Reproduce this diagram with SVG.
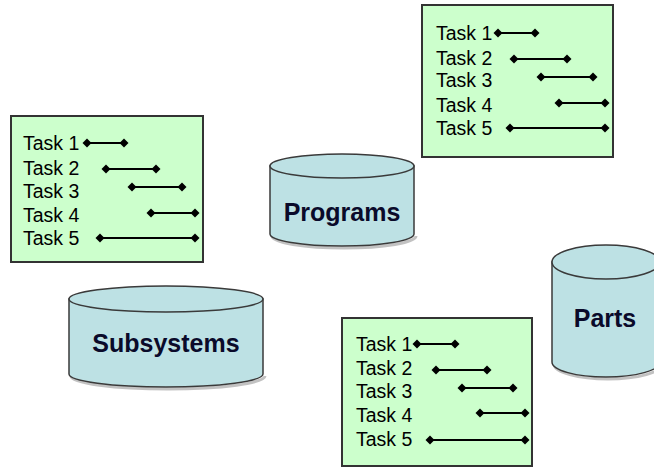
<svg xmlns="http://www.w3.org/2000/svg" width="654" height="468" viewBox="0 0 654 468">
<defs>
<style>
.box{fill:#ccffcc;stroke:#333;stroke-width:2}
.t{font-family:"Liberation Sans",Arial,sans-serif;font-size:19.5px;fill:#000}
.bar{stroke:#000;stroke-width:2;fill:none;marker-start:url(#d);marker-end:url(#d)}
.cyl{fill:#bde1e4;stroke:#3a3a3a;stroke-width:1.5}
.lbl{font-family:"Liberation Sans",Arial,sans-serif;font-size:25px;font-weight:bold;fill:#0a0a2a;text-anchor:middle}
.shadow{fill:none;stroke:#9a9a9a;stroke-width:3;opacity:0.6}
</style>
<marker id="d" viewBox="-5 -5 10 10" markerWidth="10" markerHeight="10" markerUnits="userSpaceOnUse" refX="0" refY="0" orient="auto">
<path d="M-4.5 0 L0 -4.5 L4.5 0 L0 4.5 Z" fill="#000"/>
</marker>
</defs>

<g id="tasks-left">
<rect class="box" x="11" y="116" width="192" height="146"/>
<text class="t" x="23" y="150">Task 1</text>
<text class="t" x="23" y="175">Task 2</text>
<text class="t" x="23" y="198">Task 3</text>
<text class="t" x="23" y="222">Task 4</text>
<text class="t" x="23" y="245">Task 5</text>
</g>

<g id="tasks-top-right">
<rect class="box" x="422" y="5" width="191" height="152"/>
<text class="t" x="436" y="40">Task 1</text>
<text class="t" x="436" y="65">Task 2</text>
<text class="t" x="436" y="87">Task 3</text>
<text class="t" x="436" y="112">Task 4</text>
<text class="t" x="436" y="135">Task 5</text>
</g>

<g id="tasks-bottom">
<rect class="box" x="342" y="318" width="190" height="148"/>
<text class="t" x="356" y="351">Task 1</text>
<text class="t" x="356" y="375">Task 2</text>
<text class="t" x="356" y="398">Task 3</text>
<text class="t" x="356" y="422">Task 4</text>
<text class="t" x="356" y="446">Task 5</text>
</g>

<g id="bars">
<line class="bar" x1="87" y1="143" x2="124" y2="143"/>
<line class="bar" x1="106" y1="169" x2="156" y2="169"/>
<line class="bar" x1="132" y1="187" x2="182" y2="187"/>
<line class="bar" x1="151" y1="213" x2="195" y2="213"/>
<line class="bar" x1="100" y1="238" x2="195" y2="238"/>

<line class="bar" x1="498" y1="33" x2="535" y2="33"/>
<line class="bar" x1="514" y1="59" x2="567" y2="59"/>
<line class="bar" x1="541" y1="77" x2="593" y2="77"/>
<line class="bar" x1="559" y1="103" x2="605" y2="103"/>
<line class="bar" x1="510" y1="128" x2="605" y2="128"/>

<line class="bar" x1="417" y1="344" x2="455" y2="344"/>
<line class="bar" x1="436" y1="370" x2="487" y2="370"/>
<line class="bar" x1="462" y1="388" x2="513" y2="388"/>
<line class="bar" x1="480" y1="413" x2="525" y2="413"/>
<line class="bar" x1="430" y1="440" x2="525" y2="440"/>
</g>

<g id="programs">
<path class="shadow" d="M272 236 A72 12 0 0 0 416 236"/>
<path class="cyl" d="M270 166 L270 234 A72 12 0 0 0 414 234 L414 166 Z"/>
<ellipse class="cyl" cx="342" cy="166" rx="72" ry="12"/>
<text class="lbl" x="342" y="221">Programs</text>
</g>

<g id="subsystems">
<path class="shadow" d="M71 376 A97 13 0 0 0 265 376"/>
<path class="cyl" d="M69 299 L69 374 A97 13 0 0 0 263 374 L263 299 Z"/>
<ellipse class="cyl" cx="166" cy="299" rx="97" ry="13"/>
<text class="lbl" x="166" y="352">Subsystems</text>
</g>

<g id="parts">
<path class="shadow" d="M554 364 A54 15 0 0 0 662 364"/>
<path class="cyl" d="M552 262 L552 362 A54 15 0 0 0 660 362 L660 262 Z"/>
<ellipse class="cyl" cx="606" cy="262" rx="54" ry="17"/>
<text class="lbl" x="605" y="327">Parts</text>
</g>
</svg>
